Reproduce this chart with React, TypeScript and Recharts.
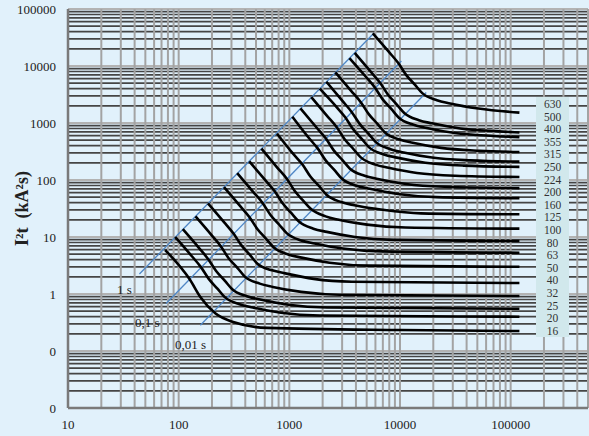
import React from "react";
import { LineChart, Line, XAxis, YAxis, ReferenceLine, Label } from "recharts";

// fuse ratings, top to bottom as listed on the right
const ratings = ["630", "500", "400", "355", "315", "250", "224", "200", "160", "125", "100", "80", "63", "50", "40", "32", "25", "20", "16"];

// I2t curves: [current, I2t]
const c630 = [[5675, 37500], [7945, 17630], [9650, 11250], [11350, 6990], [13620, 4710], [15890, 3340], [21570, 2510], [28380, 2200], [51080, 1790], [120000, 1520]];
const c500 = [[3900, 17000], [5460, 7890], [6630, 5030], [7800, 3130], [9360, 2110], [10920, 1500], [14820, 1120], [19500, 986], [35100, 802], [78000, 714], [120000, 680]];
const c400 = [[3490, 13800], [4890, 6550], [5930, 4180], [6980, 2600], [8380, 1750], [9770, 1240], [13260, 932], [17450, 819], [31410, 667], [69800, 593], [120000, 565]];
const c355 = [[2610, 7700], [3650, 3600], [4440, 2290], [5220, 1430], [6260, 961], [7310, 682], [9920, 512], [13050, 450], [23490, 366], [52200, 326], [120000, 310]];
const c315 = [[2160, 5300], [3020, 2440], [3670, 1550], [4320, 966], [5180, 651], [6050, 462], [8210, 347], [10800, 305], [19440, 248], [43200, 221], [120000, 210]];
const c250 = [[1880, 4000], [2630, 1970], [3200, 1260], [3760, 782], [4510, 527], [5260, 374], [7140, 281], [9400, 247], [16920, 201], [37600, 179], [120000, 170]];
const c224 = [[1580, 2840], [2210, 1310], [2690, 836], [3160, 520], [3790, 350], [4420, 249], [6000, 186], [7900, 164], [14220, 133], [31600, 119], [120000, 113]];
const c200 = [[1260, 1800], [1760, 835], [2140, 533], [2520, 331], [3020, 223], [3530, 158], [4790, 119], [6300, 104], [11340, 85], [25200, 76], [120000, 72]];
const c160 = [[1065, 1290], [1490, 557], [1810, 355], [2130, 221], [2560, 149], [2980, 106], [4050, 79], [5330, 70], [9590, 57], [21300, 50], [120000, 48]];
const c125 = [[774, 650], [1080, 290], [1320, 185], [1550, 115], [1860, 78], [2170, 55], [2940, 41], [3870, 36], [6970, 30], [15480, 26], [120000, 25]];
const c100 = [[560, 355], [784, 162], [952, 104], [1120, 64], [1340, 43], [1570, 31], [2130, 23], [2800, 20], [5040, 16.5], [11200, 14.7], [120000, 14]];
const c80 = [[435, 212], [609, 98.6], [740, 62.9], [870, 39.1], [1040, 26.4], [1220, 18.7], [1650, 14], [2180, 12.3], [3920, 10], [8700, 8.9], [120000, 8.5]];
const c63 = [[338, 132], [473, 61.5], [575, 39.2], [676, 24.4], [811, 16.4], [946, 11.7], [1280, 8.7], [1690, 7.7], [3040, 6.3], [6760, 5.6], [120000, 5.3]];
const c50 = [[257, 75], [360, 34.8], [437, 22.2], [514, 13.8], [617, 9.3], [720, 6.6], [977, 4.95], [1290, 4.35], [2310, 3.54], [5140, 3.15], [120000, 3]];
const c40 = [[184, 39], [258, 18.1], [313, 11.5], [368, 7.2], [442, 4.8], [515, 3.4], [699, 2.6], [920, 2.3], [1660, 1.84], [3680, 1.64], [120000, 1.56]];
const c32 = [[142, 23], [199, 10.7], [241, 6.8], [284, 4.2], [341, 2.85], [398, 2], [540, 1.52], [710, 1.33], [1280, 1.09], [2840, 0.97], [120000, 0.92]];
const c25 = [[109, 13.75], [153, 6.4], [185, 4.07], [218, 2.53], [262, 1.7], [305, 1.21], [414, 0.91], [545, 0.8], [981, 0.65], [2180, 0.58], [120000, 0.55]];
const c20 = [[93, 10], [131, 4.64], [159, 2.96], [187, 1.84], [224, 1.24], [261, 0.88], [355, 0.66], [467, 0.58], [840, 0.47], [1870, 0.42], [120000, 0.4]];
const c16 = [[75.5, 5.9], [127, 1.76], [157, 0.885], [214, 0.46], [311, 0.323], [632, 0.254], [10100, 0.233], [120000, 0.224]];

const curves = [c630, c500, c400, c355, c315, c250, c224, c200, c160, c125, c100, c80, c63, c50, c40, c32, c25, c20, c16];

// melting-time reference lines (I2t = I^2 * t)
const line1s = [[44.2, 2.24], [5795, 37500]];
const line01s = [[77, 0.68], [10300, 12200]];
const line001s = [[157, 0.283], [17260, 3430]];

const xTicks = [10, 100, 1000, 10000, 100000];
const yTicks = [0.01, 0.1, 1, 10, 100, 1000, 10000, 100000];

const toPts = (arr: number[][]) => arr.map(([x, y]) => ({ x, y }));

const xGrid: number[] = [];
[10, 100, 1000, 10000, 100000].forEach((d) => {
  for (let k = 1; k <= 9; k++) if (d * k > 10) xGrid.push(d * k);
});
xGrid.push(500000);
const yMinor: number[] = [];
[0.01, 0.1, 1, 10, 100, 1000, 10000].forEach((d) => {
  for (let k = 2; k <= 9; k++) yMinor.push(d * k);
});

const BG = "#e1f1fb";
const serif = "'Liberation Serif', 'DejaVu Serif', serif";

export default function App() {
  return (
    <div style={{ position: "absolute", left: 0, top: 0, width: 589, height: 436, background: BG, fontFamily: serif }}>
      <LineChart width={589} height={436} margin={{ top: 9, right: 1, left: 0, bottom: 0 }}>
        <XAxis
          type="number"
          dataKey="x"
          scale="log"
          domain={[10, 500000]}
          ticks={xTicks}
          allowDataOverflow
          height={28}
          tickLine={false}
          tickSize={0}
          tickMargin={12}
          axisLine={{ stroke: "#7a7a7a", strokeWidth: 2.5 }}
          tick={{ fill: "#222", fontSize: 13, fontFamily: serif }}
        />
        <YAxis
          type="number"
          dataKey="y"
          scale="log"
          domain={[0.01, 100000]}
          ticks={yTicks}
          allowDataOverflow
          width={68}
          tickLine={false}
          tickSize={0}
          tickMargin={12}
          axisLine={{ stroke: "#7a7a7a", strokeWidth: 2.5 }}
          tick={{ fill: "#222", fontSize: 13, fontFamily: serif }}
          tickFormatter={(v: number) => (v >= 1 ? String(v) : "0")}
        >
          <Label
            value={"I²t\u00a0\u00a0(kA²s)"}
            angle={-90}
            position="insideLeft"
            offset={22}
            style={{ textAnchor: "middle", fontWeight: "bold", fontSize: 18, fill: "#222", fontFamily: serif }}
          />
        </YAxis>
        {yMinor.map((v) => (
          <ReferenceLine key={"h" + v} y={v} stroke="#454545" strokeWidth={1.7} />
        ))}
        {yTicks.slice(1).map((v) => (
          <ReferenceLine key={"hm" + v} y={v} stroke="#b3b3b3" strokeWidth={2} />
        ))}
        {xGrid.map((v) => (
          <ReferenceLine key={"v" + v} x={v} stroke="#a3a3a3" strokeWidth={2} />
        ))}
        {[line1s, line01s, line001s].map((l, i) => (
          <Line
            key={"t" + i}
            data={toPts(l)}
            dataKey="y"
            stroke="#4f87c6"
            strokeWidth={1.3}
            dot={false}
            isAnimationActive={false}
          />
        ))}
        {curves.map((c, i) => (
          <Line
            key={ratings[i]}
            data={toPts(c)}
            dataKey="y"
            type="monotone"
            stroke="#000"
            strokeWidth={2.6}
            dot={false}
            isAnimationActive={false}
          />
        ))}
      </LineChart>
      <div
        style={{
          position: "absolute",
          left: 536,
          top: 97,
          width: 33,
          height: 240,
          background: "#d1e8ec",
          fontSize: 11.5,
          lineHeight: "12.6px",
          textAlign: "center",
          color: "#333",
          paddingTop: 1,
          boxSizing: "border-box",
        }}
      >
        {ratings.map((r) => (
          <div key={r}>{r}</div>
        ))}
      </div>
      <div style={{ position: "absolute", left: 117, top: 282, fontSize: 13, color: "#222", whiteSpace: "nowrap" }}>1 s</div>
      <div style={{ position: "absolute", left: 135, top: 315, fontSize: 13, color: "#222", whiteSpace: "nowrap" }}>0,1 s</div>
      <div style={{ position: "absolute", left: 175, top: 337, fontSize: 13, color: "#222", whiteSpace: "nowrap" }}>0,01 s</div>
    </div>
  );
}
